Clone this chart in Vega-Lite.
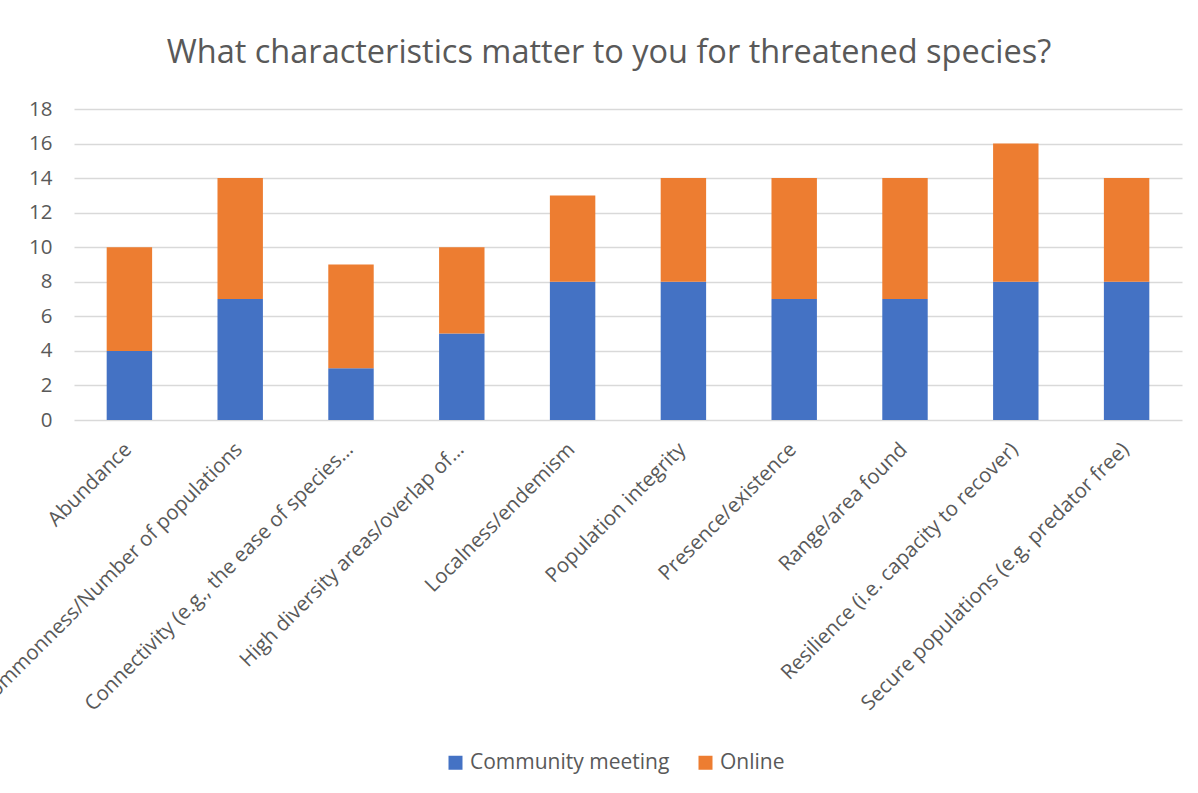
{
  "$schema": "https://vega.github.io/schema/vega-lite/v6.json",
  "width": 1108,
  "height": 311,
  "autosize": {"type": "none"},
  "padding": {"left": 74, "top": 109, "right": 16, "bottom": 373},
  "background": "white",
  "config": {"view": {"stroke": null}, "font": "Open Sans"},
  "title": {
    "text": "What characteristics matter to you for threatened species?",
    "fontSize": 32.5,
    "font": "Open Sans",
    "fontWeight": "normal",
    "color": "#595959",
    "anchor": "middle",
    "dx": -19,
    "offset": 4,
    "baseline": "alphabetic"
  },
  "data": {
    "values": [
      {"characteristic": "Abundance", "source": "Community meeting", "count": 4},
      {"characteristic": "Abundance", "source": "Online", "count": 6},
      {"characteristic": "Commonness/Number of populations", "source": "Community meeting", "count": 7},
      {"characteristic": "Commonness/Number of populations", "source": "Online", "count": 7},
      {"characteristic": "Connectivity (e.g., the ease of species…", "source": "Community meeting", "count": 3},
      {"characteristic": "Connectivity (e.g., the ease of species…", "source": "Online", "count": 6},
      {"characteristic": "High diversity areas/overlap of…", "source": "Community meeting", "count": 5},
      {"characteristic": "High diversity areas/overlap of…", "source": "Online", "count": 5},
      {"characteristic": "Localness/endemism", "source": "Community meeting", "count": 8},
      {"characteristic": "Localness/endemism", "source": "Online", "count": 5},
      {"characteristic": "Population integrity", "source": "Community meeting", "count": 8},
      {"characteristic": "Population integrity", "source": "Online", "count": 6},
      {"characteristic": "Presence/existence", "source": "Community meeting", "count": 7},
      {"characteristic": "Presence/existence", "source": "Online", "count": 7},
      {"characteristic": "Range/area found", "source": "Community meeting", "count": 7},
      {"characteristic": "Range/area found", "source": "Online", "count": 7},
      {"characteristic": "Resilience (i.e. capacity to recover)", "source": "Community meeting", "count": 8},
      {"characteristic": "Resilience (i.e. capacity to recover)", "source": "Online", "count": 8},
      {"characteristic": "Secure populations (e.g. predator free)", "source": "Community meeting", "count": 8},
      {"characteristic": "Secure populations (e.g. predator free)", "source": "Online", "count": 6}
    ]
  },
  "mark": {"type": "bar"},
  "encoding": {
    "x": {
      "field": "characteristic",
      "type": "nominal",
      "sort": null,
      "scale": {"paddingInner": 0.59, "paddingOuter": 0.295},
      "axis": {
        "title": null,
        "labelAngle": -45,
        "labelFontSize": 20.5,
        "labelColor": "#595959",
        "labelLimit": 1000,
        "labelPadding": 19,
        "labelOffset": -8,
        "ticks": false,
        "domain": false
      }
    },
    "y": {
      "field": "count",
      "type": "quantitative",
      "stack": "zero",
      "scale": {"domain": [0, 18]},
      "axis": {
        "title": null,
        "values": [0, 2, 4, 6, 8, 10, 12, 14, 16, 18],
        "grid": true,
        "gridColor": "#d9d9d9",
        "gridWidth": 1.3,
        "domain": false,
        "ticks": false,
        "labelPadding": 22,
        "labelFontSize": 20.5,
        "labelColor": "#595959"
      }
    },
    "order": {"field": "source", "sort": "ascending"},
    "color": {
      "field": "source",
      "type": "nominal",
      "scale": {"domain": ["Community meeting", "Online"], "range": ["#4472C4", "#ED7D31"]},
      "legend": {
        "title": null,
        "orient": "none",
        "direction": "horizontal",
        "legendX": 371,
        "legendY": 643,
        "symbolType": "square",
        "symbolSize": 196,
        "symbolStrokeWidth": 0,
        "labelFontSize": 21,
        "labelLimit": 500,
        "labelColor": "#595959",
        "labelOffset": 4,
        "columnPadding": 25
      }
    }
  }
}
